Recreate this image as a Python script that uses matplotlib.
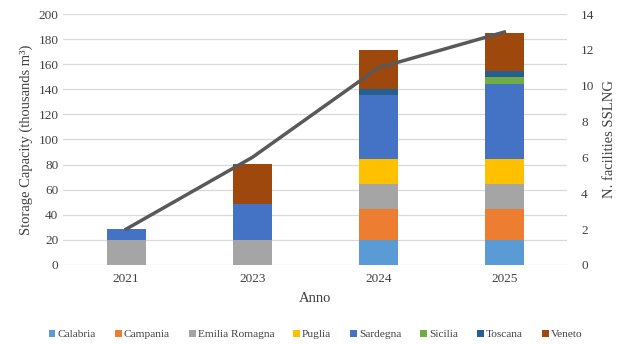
import numpy as np
import matplotlib
matplotlib.use("Agg")
import matplotlib.pyplot as plt

plt.rcParams["font.family"] = ["Liberation Serif", "DejaVu Serif"]

years = ["2021", "2023", "2024", "2025"]
regions = ["Calabria", "Campania", "Emilia Romagna", "Puglia",
           "Sardegna", "Sicilia", "Toscana", "Veneto"]
colors = ["#5B9BD5", "#ED7D31", "#A5A5A5", "#FFC000",
          "#4472C4", "#70AD47", "#255E91", "#9E480E"]

# storage capacity (thousands m3) by region, per year
calabria = [0, 0, 19.5, 19.5]
campania = [0, 0, 25, 25]
emilia = [20, 20, 20, 20]
puglia = [0, 0, 20, 20]
sardegna = [8.5, 28.5, 51, 60]
sicilia = [0, 0, 0, 5]
toscana = [0, 0, 4.5, 5.5]
veneto = [0, 32, 31, 30]
facilities = [2, 6, 11, 13]

series = [calabria, campania, emilia, puglia, sardegna, sicilia, toscana, veneto]

fig = plt.figure(figsize=(6.2, 3.44), dpi=100)
ax = fig.add_axes([0.102, 0.230, 0.813, 0.729])
x = np.arange(len(years))
bottom = np.zeros(len(years))
for name, vals, c in zip(regions, series, colors):
    ax.bar(x, vals, 0.31, bottom=bottom, color=c, label=name, zorder=2)
    bottom += np.array(vals)

ax.set_ylim(0, 200)
ax.set_yticks(range(0, 201, 20))
ax.set_xlim(-0.5, 3.5)
ax.set_xticks(x, years)
ax.grid(axis="y", color="#d9d9d9", lw=0.9, zorder=0)
for s in ax.spines.values():
    s.set_visible(False)
ax.tick_params(length=0, labelsize=9.5, colors="#404040")
ax.tick_params(axis="x", pad=6)
ax.set_ylabel("Storage Capacity (thousands m³)", fontsize=10.5, color="#404040")
ax.set_xlabel("Anno", fontsize=10.5, color="#404040", labelpad=5)

ax2 = ax.twinx()
ax2.plot(x, facilities, color="#595959", lw=2.5, zorder=3)
ax2.set_ylim(0, 14)
ax2.set_yticks(range(0, 15, 2))
for s in ax2.spines.values():
    s.set_visible(False)
ax2.tick_params(length=0, labelsize=9.5, colors="#404040", pad=10)
ax2.set_ylabel("N. facilities SSLNG", fontsize=10.5, color="#404040", labelpad=6)

h, l = ax.get_legend_handles_labels()
fig.legend(h, l, loc="center", bbox_to_anchor=(0.509, 0.028), ncol=8,
           frameon=False, fontsize=8.2, handlelength=0.6, handleheight=0.6,
           handletextpad=0.2, columnspacing=1.65, labelcolor="#404040")

fig.savefig("out.png", dpi=100)
